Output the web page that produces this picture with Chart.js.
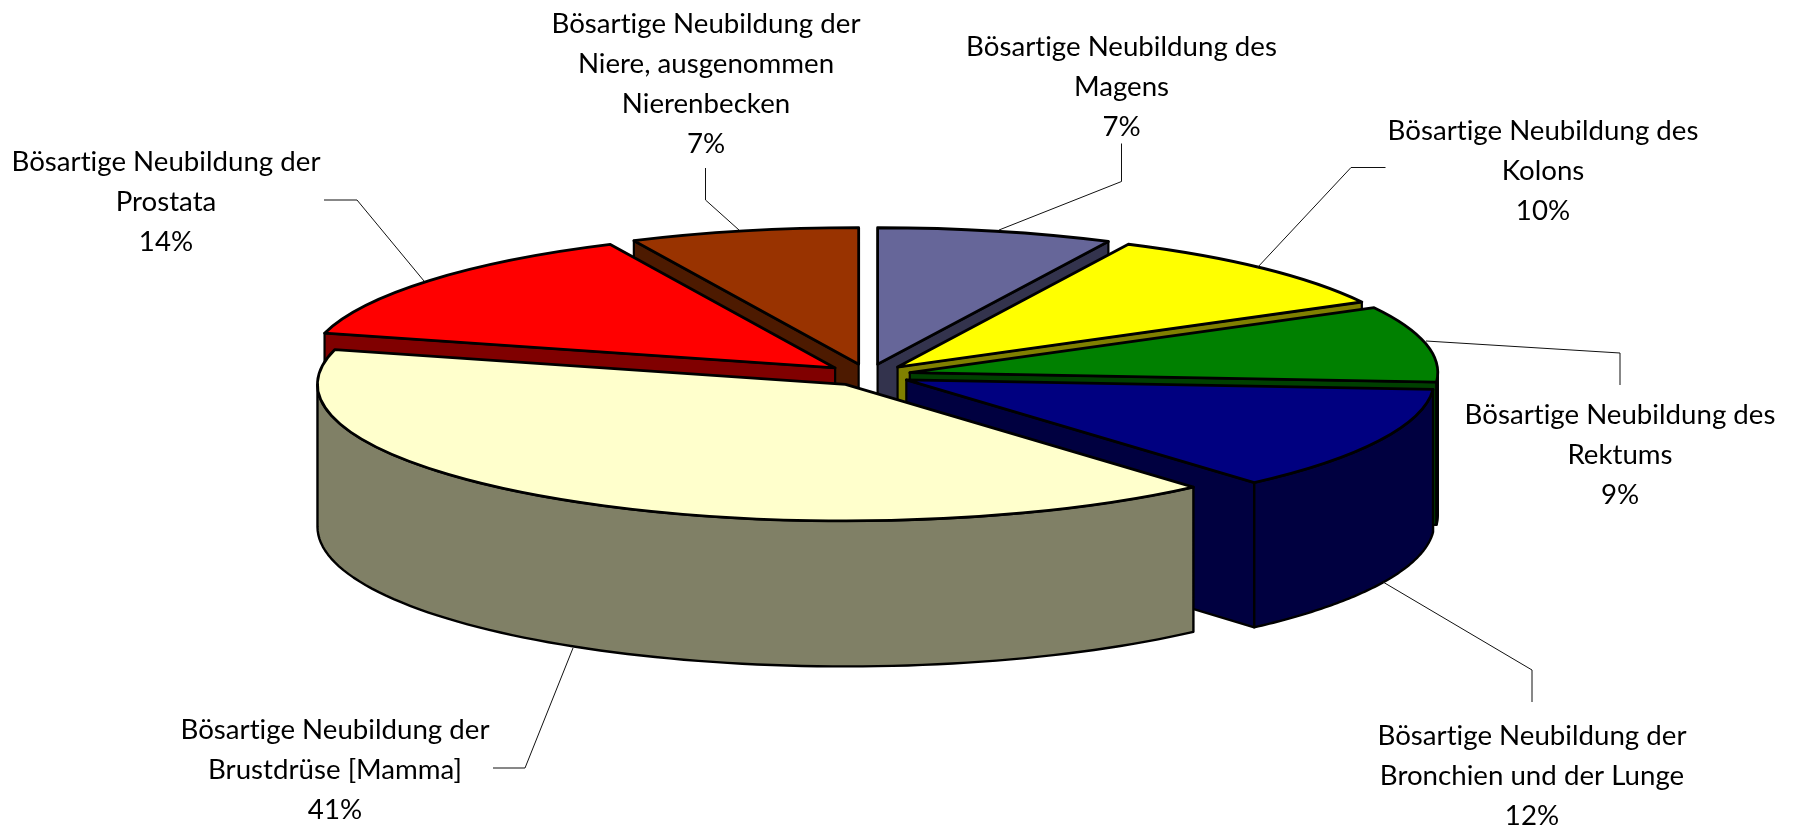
<!DOCTYPE html>
<html lang="de">
<head>
<meta charset="utf-8">
<title>Bösartige Neubildungen</title>
<style>
html,body{margin:0;padding:0;background:#fff;}
canvas{display:block;}
</style>
<script src="https://cdn.jsdelivr.net/npm/chart.js@4/dist/chart.umd.js"></script>
</head>
<body>
<canvas id="c" width="1800" height="830"></canvas>
<script>
// ---- data ----
const categories = [
  'Bösartige Neubildung des Magens',
  'Bösartige Neubildung des Kolons',
  'Bösartige Neubildung des Rektums',
  'Bösartige Neubildung der Bronchien und der Lunge',
  'Bösartige Neubildung der Brustdrüse [Mamma]',
  'Bösartige Neubildung der Prostata',
  'Bösartige Neubildung der Niere, ausgenommen Nierenbecken'
];
const shares = [7.2, 9.9, 9.0, 12.45, 40.55, 13.9, 7.0];
const faceColors = ['#666699', '#FFFF00', '#008000', '#000080', '#FFFFCC', '#FF0000', '#993300'];
const wallColors = ['#33334D', '#808000', '#004000', '#000040', '#808066', '#800000', '#4D1A00'];

// ---- layout (separate from the data) ----
const paintOrder = [6, 0, 5, 1, 2, 3, 4];
const view = {cx: 868, cy: 375, rx: 528, ry: 136.5, explode: 0.081, depth: 142.5, depthFront: 3};
const labelBoxes = [
  {x: 1121.5, y: 47,  leader: [[1121.5,143.5],[1121.5,181.5],[999,230]]},
  {x: 1543,   y: 131, leader: [[1385.5,167.5],[1351,167.5],[1257,268]]},
  {x: 1620,   y: 415, leader: [[1620,385],[1620,353],[1426,341]]},
  {x: 1532,   y: 736, leader: [[1532,702],[1532,670],[1383,582]]},
  {x: 335,    y: 730, leader: [[493,768],[525,768],[573,648]]},
  {x: 166,    y: 162, leader: [[324,200],[357,200],[424,281]]},
  {x: 706,    y: 24,  leader: [[705.5,168],[705.5,200],[739,230]]}
];
const FONT = '400 27px Lato, "Open Sans", sans-serif';
const TEXT_WIDTH = 309;   // width of the longest line

function wrap(ctx, text, maxW) {
  const out = []; let line = '';
  text.split(' ').forEach(w => {
    const t = line ? line + ' ' + w : w;
    if (ctx.measureText(t).width > maxW && line) { out.push(line); line = w; } else line = t;
  });
  out.push(line);
  return out;
}

const pie3d = {
  id: 'pie3d',
  beforeDatasetDraw(chart, args) {
    const ctx = chart.ctx;
    const arcs = chart.getDatasetMeta(args.index).data;
    const R = arcs[0].outerRadius;
    const sx = view.rx / R, sy = view.ry / R;
    const e = view.explode * R;
    const PI = Math.PI;

    paintOrder.forEach(i => {
      const arc = arcs[i];
      const a0 = arc.startAngle, a1 = arc.endAngle, mid = (a0 + a1) / 2;
      const tipX = view.cx + Math.cos(mid) * e * sx;
      const tipY = view.cy + Math.sin(mid) * e * sy;
      const pt = a => [tipX + Math.cos(a) * view.rx, tipY + Math.sin(a) * view.ry];
      const h = a => view.depth + view.depthFront * Math.sin(a);
      ctx.save();
      ctx.lineJoin = 'round';
      ctx.strokeStyle = '#000';
      ctx.fillStyle = wallColors[i];

      const radial = a => {
        const p = pt(a), d = h(a), dt = view.depth;
        ctx.beginPath();
        ctx.moveTo(tipX, tipY);
        ctx.lineTo(p[0], p[1]);
        ctx.lineTo(p[0], p[1] + d);
        ctx.lineTo(tipX, tipY + dt);
        ctx.closePath();
        ctx.fill();
        ctx.lineWidth = 2.2;
        ctx.stroke();
      };
      // the cut faces that look towards the viewer
      if (Math.sin(a1 + PI / 2) > 0.001) radial(a1);
      if (Math.sin(a0 + PI / 2) < -0.001) radial(a0);

      // the curved outer wall, front half only (js angles 0..PI)
      const from = Math.max(a0, 0), to = Math.min(a1, PI);
      if (to > from) {
        const steps = 80;
        ctx.beginPath();
        for (let k = 0; k <= steps; k++) {
          const a = from + (to - from) * k / steps, p = pt(a);
          k ? ctx.lineTo(p[0], p[1]) : ctx.moveTo(p[0], p[1]);
        }
        for (let k = steps; k >= 0; k--) {
          const a = from + (to - from) * k / steps, p = pt(a);
          ctx.lineTo(p[0], p[1] + h(a));
        }
        ctx.closePath();
        ctx.fill();
        ctx.lineWidth = 2.4;
        ctx.stroke();
      }

      // the top face: the library's own arc element, seen through the tilt
      ctx.save();
      ctx.translate(tipX, tipY);
      ctx.scale(sx, sy);
      ctx.translate(-arc.x, -arc.y);
      arc.draw(ctx);
      ctx.beginPath();
      ctx.arc(arc.x, arc.y, R, a0, a1);
      ctx.lineTo(arc.x, arc.y);
      ctx.closePath();
      ctx.restore();
      ctx.lineWidth = 2.8;
      ctx.stroke();
      ctx.restore();
    });
    return false;
  },
  afterDatasetsDraw(chart) {
    const ctx = chart.ctx;
    const values = chart.data.datasets[0].data;
    ctx.save();
    ctx.font = FONT;
    ctx.letterSpacing = '0.01px';   // keeps "ti" from joining into a ligature
    const scaleX = TEXT_WIDTH / ctx.measureText('Bösartige Neubildung der').width;
    ctx.textAlign = 'center';
    ctx.textBaseline = 'middle';
    chart.data.labels.forEach((name, i) => {
      const box = labelBoxes[i];
      ctx.strokeStyle = '#111';
      ctx.lineWidth = 1;
      ctx.beginPath();
      box.leader.forEach((p, k) => k ? ctx.lineTo(p[0], p[1]) : ctx.moveTo(p[0], p[1]));
      ctx.stroke();
      const lines = wrap(ctx, name, 325 / scaleX).concat(Math.round(values[i]) + '%');
      ctx.fillStyle = '#000';
      lines.forEach((ln, k) => {
        ctx.save();
        ctx.translate(box.x, box.y + k * 40);
        ctx.scale(scaleX, 1);
        ctx.fillText(ln, 0, 0);
        ctx.restore();
      });
    });
    ctx.restore();
  }
};

new Chart(document.getElementById('c'), {
  type: 'pie',
  data: {
    labels: categories,
    datasets: [{
      data: shares,
      backgroundColor: faceColors,
      borderWidth: 0
    }]
  },
  options: {
    responsive: false,
    animation: false,
    events: [],
    plugins: {legend: {display: false}, tooltip: {enabled: false}, title: {display: false}}
  },
  plugins: [pie3d]
});
</script>
</body>
</html>
